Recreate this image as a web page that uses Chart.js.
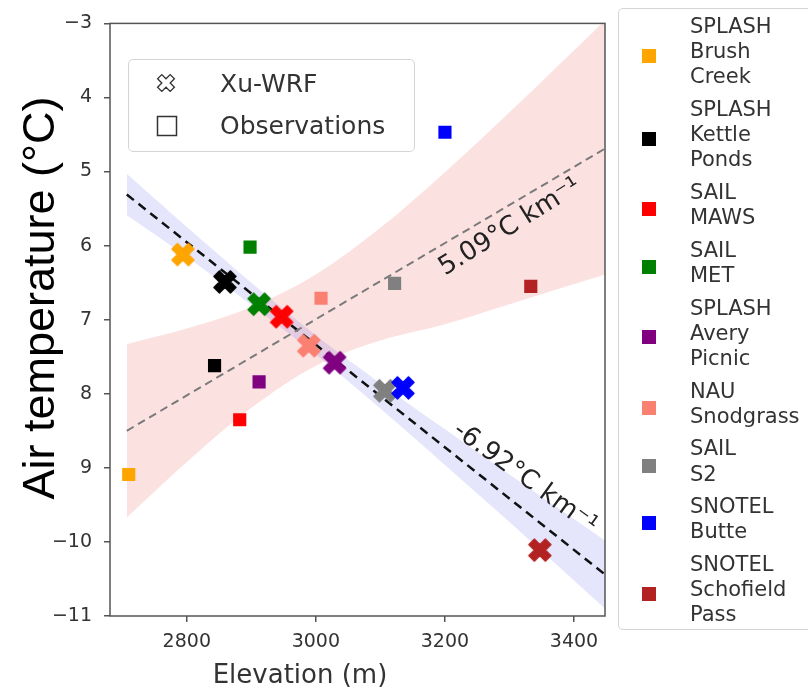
<!DOCTYPE html>
<html>
<head>
<meta charset="utf-8">
<title>Air temperature vs elevation</title>
<script src="https://cdn.jsdelivr.net/npm/chart.js@4.4.1/dist/chart.umd.min.js"></script>
<style>
  body { margin: 0; background: #fff; overflow: hidden; }
  #wrap { position: relative; width: 808px; height: 690px; }
  #c { position: absolute; left: 0; top: 0; }
  #typeLegend {
    position: absolute; left: 128px; top: 59px; width: 287px; height: 93px;
    box-sizing: border-box; border: 1px solid #d4d4d4; border-radius: 5px;
    background: rgba(255,255,255,0.85);
    font-family: 'DejaVu Sans', sans-serif; font-size: 25px; color: #333;
  }
  #typeLegend .row { position: absolute; left: 0; height: 30px; line-height: 30px; }
  #typeLegend svg { position: absolute; left: 27px; top: 4px; }
  #typeLegend span { position: absolute; left: 91px; white-space: nowrap; }
  #stationLegend {
    position: absolute; left: 618px; top: 8px; width: 210px; height: 622px;
    box-sizing: border-box; border: 1px solid #d4d4d4; border-radius: 5px;
    padding-top: 5px;
    font-family: 'DejaVu Sans', sans-serif; font-size: 21px; line-height: 25.2px; color: #333;
  }
  #stationLegend .item { position: relative; margin-bottom: 7.4px; }
  #stationLegend .mk { position: absolute; left: 23px; width: 14px; height: 14px; top: 50%; margin-top: -3px; }
  #stationLegend .txt { margin-left: 71px; }
</style>
</head>
<body>
<div id="wrap">
  <canvas id="c" width="808" height="690"></canvas>
  <div id="typeLegend">
    <div class="row" style="top:9px">
      <svg width="20" height="20" viewBox="-10 -10 20 20"><polygon id="legX" fill="#fff" stroke="#333" stroke-width="1.3"></polygon></svg>
      <span>Xu-WRF</span>
    </div>
    <div class="row" style="top:51px">
      <svg width="22" height="22" viewBox="0 0 22 22"><rect x="1.5" y="1.5" width="19" height="19" fill="#fff" stroke="#333" stroke-width="1.5"></rect></svg>
      <span>Observations</span>
    </div>
  </div>
  <div id="stationLegend"></div>
</div>
<script>
// stations and their colours
var stations = ['SPLASH Brush Creek', 'SPLASH Kettle Ponds', 'SAIL MAWS', 'SAIL MET', 'SPLASH Avery Picnic',
                'NAU Snodgrass', 'SAIL S2', 'SNOTEL Butte', 'SNOTEL Schofield Pass'];
var stationColors = ['#ffa500', '#000000', '#ff0000', '#008000', '#800080',
                     '#fa8072', '#808080', '#0000ff', '#b22222'];

// observations (squares)
var obsElev = [2710, 2843, 2882, 2898, 2912, 3008, 3122, 3200, 3333];
var obsTemp = [-9.09, -7.62, -8.35, -6.02, -7.84, -6.71, -6.51, -4.47, -6.55];

// Xu-WRF (crosses)
var wrfElev = [2794, 2859, 2947, 2912, 3029, 2989, 3107, 3135, 3347];
var wrfTemp = [-6.12, -6.49, -6.96, -6.79, -7.58, -7.35, -7.96, -7.92, -10.11];

// lapse-rate fits
var trendElev = [2707, 3448];
var obsTrend = [-8.50, -4.69];
var wrfTrend = [-5.31, -10.44];

// confidence bands
var bandElev = [2707, 2800, 2900, 3000, 3100, 3200, 3300, 3448];
var obsUpper = [-7.33, -7.12, -6.83, -6.39, -5.76, -5.01, -4.20, -2.96];
var obsLower = [-9.67, -8.92, -8.19, -7.62, -7.28, -7.06, -6.79, -6.39];
var wrfUpper = [-5.03, -5.75, -6.50, -7.21, -7.86, -8.48, -9.09, -9.98];
var wrfLower = [-5.59, -6.15, -6.80, -7.47, -8.20, -8.96, -9.73, -10.90];

// axes
var xTicks = [2800, 3000, 3200, 3400];
var yTicks = [-3, -4, -5, -6, -7, -8, -9, -10, -11];
var yTickLabels = ['\u22123', '4', '5', '6', '7', '8', '9', '\u221210', '\u221211'];

// matplotlib style filled "X" marker outline
var xPoly = [[-1,-2],[0,-1],[1,-2],[2,-1],[1,0],[2,1],[1,2],[0,1],[-1,2],[-2,1],[-1,0],[-2,-1]];

function xMarker(color, size) {
  var c = document.createElement('canvas');
  c.width = c.height = size + 4;
  var g = c.getContext('2d');
  var s = size / 4, o = (size + 4) / 2;
  g.beginPath();
  xPoly.forEach(function(p, i) {
    if (i === 0) g.moveTo(o + p[0] * s, o + p[1] * s);
    else g.lineTo(o + p[0] * s, o + p[1] * s);
  });
  g.closePath();
  g.fillStyle = color;
  g.fill();
  g.lineJoin = 'round';
  g.lineWidth = 1.5;
  g.strokeStyle = color;
  g.stroke();
  return c;
}

function pts(xs, ys) {
  return xs.map(function(x, i) { return { x: x, y: ys[i] }; });
}

// legends
document.getElementById('legX').setAttribute('points',
  xPoly.map(function(p) { return (p[0] * 4.2) + ',' + (p[1] * 4.2); }).join(' '));

var legendBox = document.getElementById('stationLegend');
stations.forEach(function(name, i) {
  var item = document.createElement('div');
  item.className = 'item';
  item.innerHTML = '<div class="mk" style="background:' + stationColors[i] + '"></div>' +
    '<div class="txt">' + name.split(' ').join('<br>') + '</div>';
  legendBox.appendChild(item);
});

var decorations = {
  id: 'decorations',
  afterDatasetsDraw: function(chart) {
    var ctx = chart.ctx, xs = chart.scales.x, ys = chart.scales.y;
    var labels = [
      { text: '5.09\u00b0C km\u207b\u00b9', x: 3301, y: -5.75, angle: -32 },
      { text: '-6.92\u00b0C km\u207b\u00b9', x: 3324, y: -9.14, angle: 36 }
    ];
    ctx.save();
    ctx.fillStyle = '#222';
    ctx.font = '26px "DejaVu Sans"';
    ctx.textAlign = 'center';
    ctx.textBaseline = 'middle';
    labels.forEach(function(l) {
      ctx.save();
      ctx.translate(xs.getPixelForValue(l.x), ys.getPixelForValue(l.y));
      ctx.rotate(l.angle * Math.PI / 180);
      ctx.fillText(l.text, 0, 0);
      ctx.restore();
    });
    ctx.restore();
  },
  afterDraw: function(chart) {
    var ctx = chart.ctx, a = chart.chartArea;
    ctx.save();
    ctx.strokeStyle = '#555';
    ctx.lineWidth = 1.5;
    ctx.strokeRect(a.left, a.top, a.right - a.left, a.bottom - a.top);

    ctx.fillStyle = '#333';
    ctx.font = '26px "DejaVu Sans"';
    ctx.textAlign = 'center';
    ctx.textBaseline = 'alphabetic';
    ctx.fillText('Elevation (m)', 300, 683);

    ctx.fillStyle = '#000';
    ctx.font = '45px "Liberation Sans"';
    ctx.textBaseline = 'middle';
    ctx.translate(42, 298);
    ctx.rotate(-Math.PI / 2);
    ctx.fillText('Air temperature (\u00b0C)', 0, 0);
    ctx.restore();
  }
};

Chart.defaults.font.family = 'DejaVu Sans';

new Chart(document.getElementById('c'), {
  type: 'scatter',
  data: {
    datasets: [
      {
        label: 'Obs band upper', data: pts(bandElev, obsUpper), showLine: true,
        pointRadius: 0, borderWidth: 0, borderColor: 'rgba(0,0,0,0)',
        backgroundColor: 'rgba(240,80,80,0.17)', fill: '+1',
        cubicInterpolationMode: 'monotone', order: 4
      },
      {
        label: 'Obs band lower', data: pts(bandElev, obsLower), showLine: true,
        pointRadius: 0, borderWidth: 0, borderColor: 'rgba(0,0,0,0)',
        cubicInterpolationMode: 'monotone', order: 4
      },
      {
        label: 'WRF band upper', data: pts(bandElev, wrfUpper), showLine: true,
        pointRadius: 0, borderWidth: 0, borderColor: 'rgba(0,0,0,0)',
        backgroundColor: 'rgba(70,70,230,0.14)', fill: '+1',
        cubicInterpolationMode: 'monotone', order: 3
      },
      {
        label: 'WRF band lower', data: pts(bandElev, wrfLower), showLine: true,
        pointRadius: 0, borderWidth: 0, borderColor: 'rgba(0,0,0,0)',
        cubicInterpolationMode: 'monotone', order: 3
      },
      {
        label: 'Obs fit', data: pts(trendElev, obsTrend), showLine: true,
        pointRadius: 0, borderColor: '#7a7a7a', borderWidth: 2, borderDash: [8, 5], order: 2
      },
      {
        label: 'WRF fit', data: pts(trendElev, wrfTrend), showLine: true,
        pointRadius: 0, borderColor: '#111', borderWidth: 2.5, borderDash: [9, 6], order: 2
      },
      {
        label: 'Observations', data: pts(obsElev, obsTemp),
        pointStyle: 'rect', pointRadius: 9.3, pointHoverRadius: 9.3,
        pointBackgroundColor: stationColors, pointBorderColor: stationColors, pointBorderWidth: 0,
        order: 1
      },
      {
        label: 'Xu-WRF', data: pts(wrfElev, wrfTemp),
        pointStyle: stationColors.map(function(c) { return xMarker(c, 22); }),
        pointRadius: 11, order: 0
      }
    ]
  },
  options: {
    responsive: false,
    animation: false,
    devicePixelRatio: 1,
    layout: { padding: { top: 21, right: 203, left: 0, bottom: 0 } },
    plugins: { legend: { display: false }, tooltip: { enabled: false } },
    scales: {
      x: {
        type: 'linear', min: 2681, max: 3448,
        afterBuildTicks: function(s) { s.ticks = xTicks.map(function(v) { return { value: v }; }); },
        afterFit: function(s) { s.height = 74; },
        grid: { drawOnChartArea: false, tickLength: 6, color: '#555', lineWidth: 1.5 },
        border: { display: false },
        ticks: {
          padding: 9, color: '#333', font: { size: 19 }, maxRotation: 0,
          callback: function(v) { return String(v); }
        }
      },
      y: {
        type: 'linear', min: -11, max: -3,
        afterBuildTicks: function(s) { s.ticks = yTicks.map(function(v) { return { value: v }; }); },
        afterFit: function(s) { s.width = 110; },
        grid: { drawOnChartArea: false, tickLength: 6, color: '#555', lineWidth: 1.5 },
        border: { display: false },
        ticks: {
          padding: 12, color: '#333', font: { size: 19 },
          callback: function(v) { return yTickLabels[yTicks.indexOf(v)]; }
        }
      }
    }
  },
  plugins: [decorations]
});
</script>
</body>
</html>
